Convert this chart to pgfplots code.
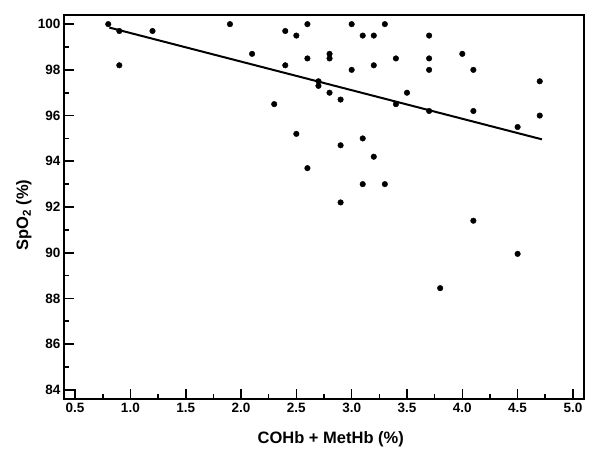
\documentclass[border=0pt]{standalone}
\usepackage{pgfplots}
\pgfplotsset{compat=1.18}
\usepackage{fontspec}
\setmainfont{Liberation Sans}
\begin{document}
\begin{tikzpicture}
\path[use as bounding box] (0,0) rectangle (601pt,459pt);
\begin{axis}[
  at={(64pt,60pt)}, anchor=south west,
  width=520pt, height=384pt, scale only axis,
  xmin=0.4, xmax=5.1, ymin=83.6, ymax=100.4,
  xtick={0.5,1,...,5}, ytick={84,86,...,100},
  minor x tick num=1, minor y tick num=1,
  xtick pos=bottom, ytick pos=left,
  tick align=inside,
  major tick length=10pt, minor tick length=5pt,
  every tick/.style={line width=1.6pt, black},
  axis line style={line width=2pt},
  /pgf/number format/assume math mode=true,
  xticklabel style={/pgf/number format/fixed, /pgf/number format/fixed zerofill, /pgf/number format/precision=1},
  ticklabel style={font=\bfseries\fontsize{13.5}{13.5}\selectfont},
  xticklabel style={yshift=-1pt},
  yticklabel style={xshift=0pt},
  xlabel={COHb + MetHb (\%)},
  ylabel={SpO\textsubscript{2} (\%)},
  label style={font=\bfseries\fontsize{16.5}{16.5}\selectfont},
  xlabel style={at={(axis description cs:0.513,-0.105)}, anchor=center},
  ylabel style={at={(axis description cs:-0.077,0.479)}, anchor=center},
]
\addplot[only marks, mark=*, mark size=2.8pt, black] coordinates {
(0.8,100) (0.9,99.7) (1.2,99.7) (0.9,98.2) (1.9,100) (2.1,98.7)
(2.4,99.7) (2.5,99.5) (2.6,100) (2.4,98.2) (2.6,98.5) (2.8,98.7) (2.8,98.5)
(2.7,97.5) (2.7,97.3) (2.8,97.0) (2.3,96.5) (2.5,95.2) (2.6,93.7)
(2.9,96.7) (2.9,94.7) (2.9,92.2)
(3.0,100) (3.1,99.5) (3.2,99.5) (3.3,100) (3.7,99.5)
(3.0,98.0) (3.2,98.2) (3.4,98.5) (3.7,98.5) (3.7,98.0) (4.0,98.7) (4.1,98.0)
(4.7,97.5) (3.5,97.0) (3.4,96.5) (3.7,96.2) (4.1,96.2) (4.7,96.0) (4.5,95.5)
(3.1,95.0) (3.2,94.2) (3.1,93.0) (3.3,93.0)
(4.1,91.4) (4.5,89.95) (3.8,88.45)
};
\addplot[black, line width=2pt] coordinates {(0.81,99.85) (4.72,94.96)};
\end{axis}
\end{tikzpicture}
\end{document}
